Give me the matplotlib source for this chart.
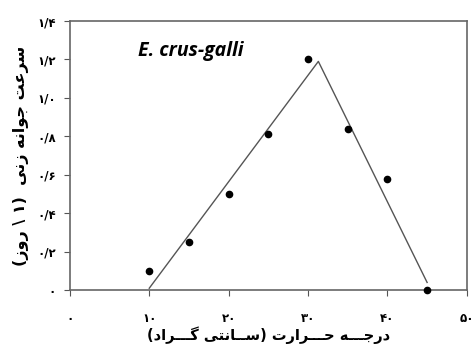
import matplotlib
matplotlib.use("Agg")
import matplotlib.pyplot as plt

# ---- data ----
temperature = [10, 15, 20, 25, 30, 35, 40, 45]
germ_rate = [0.10, 0.25, 0.50, 0.81, 1.20, 0.84, 0.58, 0.00]
fit_x = [10.0, 31.3, 45.0]
fit_y = [0.01, 1.19, 0.04]
xticks = [0, 10, 20, 30, 40, 50]
yticks = [0, 0.2, 0.4, 0.6, 0.8, 1.0, 1.2, 1.4]
species = "E. crus-galli"
xlabel_txt = "درجـــه حـــرارت (ســانتی گـــراد)"
ylabel_txt = "سرعت جوانه زنی  (۱ \\ روز)"

# ---- simple Persian shaping (presentation forms, visual order) ----
FORMS = {
    'ا': ('\uFE8D', '\uFE8E', None, None),
    'ت': ('\uFE95', '\uFE96', '\uFE97', '\uFE98'),
    'ج': ('\uFE9D', '\uFE9E', '\uFE9F', '\uFEA0'),
    'ح': ('\uFEA1', '\uFEA2', '\uFEA3', '\uFEA4'),
    'د': ('\uFEA9', '\uFEAA', None, None),
    'ر': ('\uFEAD', '\uFEAE', None, None),
    'ز': ('\uFEAF', '\uFEB0', None, None),
    'س': ('\uFEB1', '\uFEB2', '\uFEB3', '\uFEB4'),
    'ع': ('\uFEC9', '\uFECA', '\uFECB', '\uFECC'),
    'ن': ('\uFEE5', '\uFEE6', '\uFEE7', '\uFEE8'),
    'ه': ('\uFEE9', '\uFEEA', '\uFEEB', '\uFEEC'),
    'و': ('\uFEED', '\uFEEE', None, None),
    'ی': ('\uFBFC', '\uFBFD', '\uFBFE', '\uFBFF'),
    'گ': ('\uFB92', '\uFB93', '\uFB94', '\uFB95'),
}
KASH = '\u0640'


def dual(c):
    return c == KASH or (c in FORMS and FORMS[c][2] is not None)


def letter(c):
    return c == KASH or c in FORMS


def shape(s):
    out = []
    for i, c in enumerate(s):
        if c not in FORMS:
            out.append(c)
            continue
        prev = s[i - 1] if i > 0 else ''
        nxt = s[i + 1] if i + 1 < len(s) else ''
        jp = dual(prev)
        jn = dual(c) and letter(nxt)
        iso, fin, ini, med = FORMS[c]
        if jp and jn:
            out.append(med)
        elif jp:
            out.append(fin)
        elif jn:
            out.append(ini)
        else:
            out.append(iso)
    vis = ''.join(reversed(out))
    return vis.translate(str.maketrans('()', ')('))


def fa_num(v, dec):
    s = '0' if v == 0 else ('%.*f' % (dec, v)).replace('.', '/')
    return s.translate(str.maketrans('0123456789', '۰۱۲۳۴۵۶۷۸۹'))


plt.rcParams['font.family'] = ['DejaVu Sans']

fig = plt.figure(figsize=(4.72, 3.45), dpi=100)
ax = fig.add_axes([0.148, 0.159, 0.841, 0.780])

ax.plot(fit_x, fit_y, color='#555555', lw=1.0, zorder=2)
ax.plot(temperature, germ_rate, 'o', color='black', ms=4.5, zorder=3, clip_on=False)

ax.set_xlim(0, 50)
ax.set_ylim(0, 1.4)
ax.set_xticks(xticks)
ax.set_yticks(yticks)
ax.set_xticklabels([fa_num(v, 0) for v in xticks], fontsize=8.5, fontweight='bold')
ax.set_yticklabels([fa_num(v, 1) for v in yticks], fontsize=8.5, fontweight='bold')
ax.tick_params(axis='x', direction='out', length=4, pad=12, color='#555555')
ax.tick_params(axis='y', direction='out', length=4, pad=6, color='#555555')
for sp in ax.spines.values():
    sp.set_color('#666666')
    sp.set_linewidth(1.2)

ax.set_xlabel(shape(xlabel_txt), fontsize=10.5, fontweight='bold', labelpad=1)
ax.set_ylabel(shape(ylabel_txt), fontsize=11.5, fontweight='bold', labelpad=6)

ax.text(0.171, 0.888, species, transform=ax.transAxes, fontsize=14,
        fontweight='bold', fontstyle='italic', family='Open Sans',
        ha='left', va='center')

fig.savefig('out.png', dpi=100)
